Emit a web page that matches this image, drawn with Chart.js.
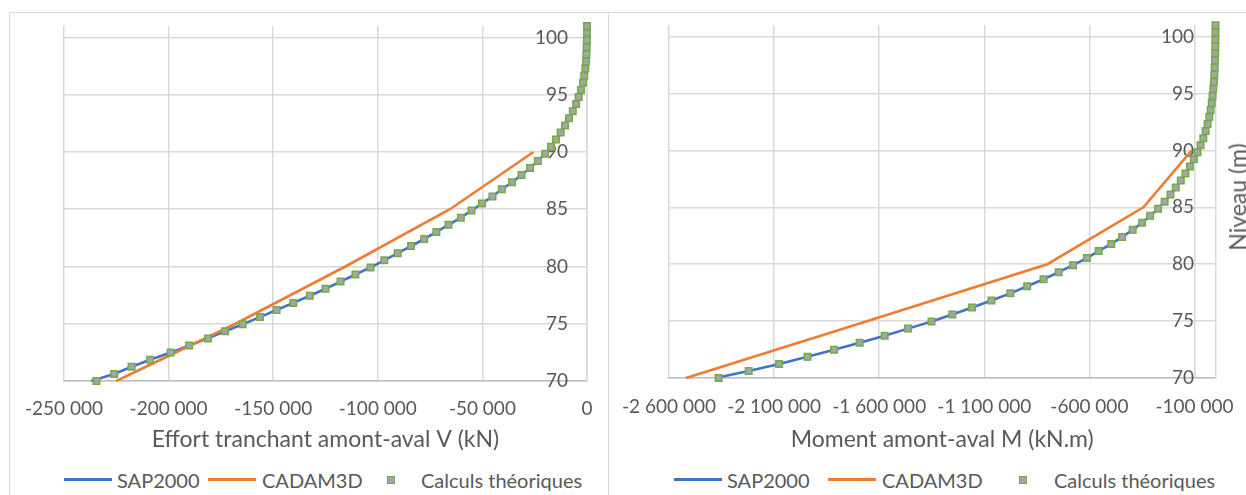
<!DOCTYPE html>
<html lang="fr">
<head>
<meta charset="utf-8">
<title>Effort tranchant et moment amont-aval</title>
<script src="https://cdn.jsdelivr.net/npm/chart.js@4.4.1/dist/chart.umd.min.js"></script>
<style>
  html, body { margin: 0; padding: 0; background: #ffffff; }
  body { position: relative; width: 1246px; height: 495px; overflow: hidden;
         font-family: Lato, "Open Sans", sans-serif; color: #595959; }
  .frame { position: absolute; box-sizing: border-box; border-color: #d9d9d9; border-style: solid; }
  canvas { position: absolute; }
  .legend-line { position: absolute; height: 3px; top: 478px; }
  .legend-mark { position: absolute; width: 6px; height: 6px; top: 476px;
                 background: #a5a5a5; border: 1.5px solid #70ad47; }
  .legend-text { position: absolute; top: 468px; height: 24px; line-height: 24px;
                 font-size: 20px; white-space: nowrap; }
  .side-title { position: absolute; font-size: 23px; white-space: nowrap;
                transform: translate(-50%, -50%) rotate(-90deg); }
</style>
</head>
<body>
<div class="frame" style="left:9px; top:12px; width:600px; height:500px; border-width:1.5px;"></div>
<div class="frame" style="left:608px; top:12px; width:660px; height:500px; border-width:1.5px 0 0 0;"></div>

<canvas id="shearChart" width="599" height="447" style="left:9px; top:13px;"></canvas>
<canvas id="momentChart" width="636" height="447" style="left:610px; top:13px;"></canvas>

<div class="side-title" id="levelTitle" style="left:1237px; top:197px;"></div>
<div id="legends"></div>

<script>
// Levels of the computation nodes along the structure (m)
const levels = [70, 70.62, 71.24, 71.86, 72.48, 73.1, 73.72, 74.34, 74.96, 75.58,
  76.2, 76.82, 77.44, 78.06, 78.68, 79.3, 79.92, 80.54, 81.16, 81.78,
  82.4, 83.02, 83.64, 84.26, 84.88, 85.5, 86.12, 86.74, 87.36, 87.98,
  88.6, 89.22, 89.84, 90.46, 91.08, 91.7, 92.32, 92.94, 93.56, 94.18,
  94.8, 95.42, 96.04, 96.66, 97.28, 97.9, 98.52, 99.14, 99.76, 100.38, 101];

// Shear force V (kN)
const shearTheory = [-234500, -226000, -217700, -208800, -199000, -190200, -181200, -173000, -164600, -156300,
  -148400, -140400, -132500, -125000, -117800, -110700, -103500, -96900, -90500, -84100,
  -77800, -72000, -66200, -60300, -55200, -50200, -45200, -40700, -35800, -31300,
  -27200, -23500, -20000, -17200, -14800, -12600, -10500, -8600, -6800, -5200,
  -4000, -2900, -1900, -1300, -800, -500, -300, -150, -50, -10, 0];
const shearSap = [-237000, -226000, -217700, -208800, -199000, -190200, -181200, -173000, -164600, -156300,
  -148400, -140400, -132500, -125000, -117800, -110700, -103500, -96900, -90500, -84100,
  -77800, -72000, -66200, -60300, -55200, -50200, -45200, -40700, -35800, -31300,
  -27200, -23500, -20000, -17200, -14800, -12600, -10500, -8600, -6800, -5200,
  -4000, -2900, -1900, -1300, -800, -500, -300, -150, -50, -10, 0];
const cadamLevels = [70, 75, 80, 85, 90];
const shearCadam = [-225000, -168000, -115500, -65500, -25600];

// Bending moment M (kN.m)
const momentTheory = [-2364000, -2221000, -2076000, -1941000, -1815000, -1693000, -1574000, -1463000, -1351000, -1252000,
  -1158000, -1066000, -976000, -896000, -818000, -746000, -678000, -612000, -556000, -496000,
  -444000, -394000, -349000, -311000, -273000, -242000, -214000, -189000, -165000, -143000,
  -122000, -103000, -86000, -71000, -58000, -47000, -37500, -29500, -23000, -18000,
  -14000, -10500, -7600, -5500, -3800, -2500, -1500, -800, -400, -100, 0];
const momentSap = [-2378000, -2221000, -2076000, -1941000, -1815000, -1693000, -1574000, -1463000, -1351000, -1252000,
  -1158000, -1066000, -976000, -896000, -818000, -746000, -678000, -612000, -556000, -496000,
  -444000, -394000, -349000, -311000, -273000, -242000, -214000, -189000, -165000, -143000,
  -122000, -103000, -86000, -71000, -58000, -47000, -37500, -29500, -23000, -18000,
  -14000, -10500, -7600, -5500, -3800, -2500, -1500, -800, -400, -100, 0];
const momentCadam = [-2519000, -1655000, -800000, -343000, -113000];

// Axis ticks
const levelTicks = [70, 75, 80, 85, 90, 95, 100];
const shearTicks = [-250000, -200000, -150000, -100000, -50000, 0];
const momentTicks = [-2600000, -2100000, -1600000, -1100000, -600000, -100000];

// Series names and axis titles
const seriesNames = ['SAP2000', 'CADAM3D', 'Calculs théoriques'];
const shearTitle = 'Effort tranchant amont-aval V (kN)';
const momentTitle = 'Moment amont-aval M (kN.m)';
const levelTitle = 'Niveau (m)';

// ---- styling ----
const TEXT = '#595959';
const GRID = '#d9d9d9';
const AXIS = '#bfbfbf';
const BLUE = '#4472c4';
const ORANGE = '#ed7d31';
const GREEN = '#70ad47';
const GREY = '#a5a5a5';

Chart.defaults.font.family = "Lato, 'Open Sans', sans-serif";
Chart.defaults.color = TEXT;

// French number formatting: "-250 000"
function frNumber(v) {
  const n = Math.round(Math.abs(v)).toString().replace(/\B(?=(\d{3})+(?!\d))/g, ' ');
  return (v < 0 ? '-' : '') + n;
}
const pairs = (xs, ys) => xs.map((x, i) => ({ x: x, y: ys[i] }));

// Keep the plot area exactly where the layout padding puts it
function noEdgePadding(s) {
  s.paddingLeft = 0; s.paddingRight = 0; s.paddingTop = 0; s.paddingBottom = 0;
}

function buildChart(id, opt) {
  return new Chart(document.getElementById(id), {
    type: 'scatter',
    data: {
      datasets: [
        { label: seriesNames[2], data: pairs(opt.theory, levels), showLine: false,
          pointStyle: 'rect', pointRadius: 4.6, pointBackgroundColor: GREY,
          pointBorderColor: GREEN, pointBorderWidth: 1.5, order: 0, clip: false },
        { label: seriesNames[1], data: pairs(opt.cadam, cadamLevels), showLine: true,
          borderColor: ORANGE, backgroundColor: ORANGE, borderWidth: 2.6, pointRadius: 0,
          tension: 0, order: 1, clip: false },
        { label: seriesNames[0], data: pairs(opt.sap, levels), showLine: true,
          borderColor: BLUE, backgroundColor: BLUE, borderWidth: 2.6, pointRadius: 0,
          tension: 0, order: 2, clip: false }
      ]
    },
    options: {
      responsive: false,
      animation: false,
      events: [],
      layout: { padding: opt.padding },
      plugins: { legend: { display: false }, tooltip: { enabled: false } },
      scales: {
        x: {
          type: 'linear', position: 'bottom', min: opt.xMin, max: opt.xMax,
          afterBuildTicks: s => { s.ticks = opt.xTicks.map(v => ({ value: v })); },
          afterFit: s => { s.height = opt.xHeight; noEdgePadding(s); },
          grid: { color: GRID, lineWidth: 1.5, drawTicks: false },
          border: { display: true, color: AXIS, width: 1.5 },
          ticks: { padding: opt.xTickPad, maxRotation: 0, autoSkip: false,
                   font: { size: 19 }, color: TEXT, callback: v => frNumber(v) },
          title: { display: true, text: opt.xTitle, color: TEXT, font: { size: 23 },
                   padding: { top: 0, bottom: opt.titlePad } }
        },
        y: {
          type: 'linear', position: 'right', min: 70, max: 101,
          afterBuildTicks: s => { s.ticks = levelTicks.map(v => ({ value: v })); },
          afterFit: s => { s.width = opt.yWidth; noEdgePadding(s); },
          grid: { color: GRID, lineWidth: 1.5, drawTicks: false },
          border: { display: true, color: GRID, width: 1.5 },
          ticks: { mirror: true, padding: opt.yTickPad, font: { size: 19 }, color: TEXT }
        }
      }
    }
  });
}

buildChart('shearChart', {
  theory: shearTheory, sap: shearSap, cadam: shearCadam,
  xMin: -250000, xMax: 0, xTicks: shearTicks, xTitle: shearTitle,
  padding: { left: 55, top: 13, right: 0, bottom: 0 },
  xHeight: 79, yWidth: 21, xTickPad: 16.6, titlePad: 6.2, yTickPad: -19
});

buildChart('momentChart', {
  theory: momentTheory, sap: momentSap, cadam: momentCadam,
  xMin: -2600000, xMax: 0, xTicks: momentTicks, xTitle: momentTitle,
  padding: { left: 59, top: 12.3, right: 0, bottom: 0 },
  xHeight: 82, yWidth: 30.5, xTickPad: 17.6, titlePad: 6.7, yTickPad: -21.5
});

document.getElementById('levelTitle').textContent = levelTitle;

// Legends under each chart
function addLegend(pos) {
  const host = document.getElementById('legends');
  const items = [
    { kind: 'line', color: BLUE, left: pos[0], text: seriesNames[0], textLeft: pos[1] },
    { kind: 'line', color: ORANGE, left: pos[2], text: seriesNames[1], textLeft: pos[3] },
    { kind: 'mark', left: pos[4], text: seriesNames[2], textLeft: pos[5] }
  ];
  items.forEach(it => {
    const sw = document.createElement('div');
    if (it.kind === 'line') {
      sw.className = 'legend-line';
      sw.style.left = it.left + 'px';
      sw.style.width = '48px';
      sw.style.background = it.color;
    } else {
      sw.className = 'legend-mark';
      sw.style.left = (it.left - 4.5) + 'px';
    }
    host.appendChild(sw);
    const tx = document.createElement('div');
    tx.className = 'legend-text';
    tx.style.left = it.textLeft + 'px';
    tx.textContent = it.text;
    host.appendChild(tx);
  });
}
addLegend([64, 117, 208, 262, 391, 421]);
addLegend([674, 727, 828, 882, 1023, 1054]);
</script>
</body>
</html>
